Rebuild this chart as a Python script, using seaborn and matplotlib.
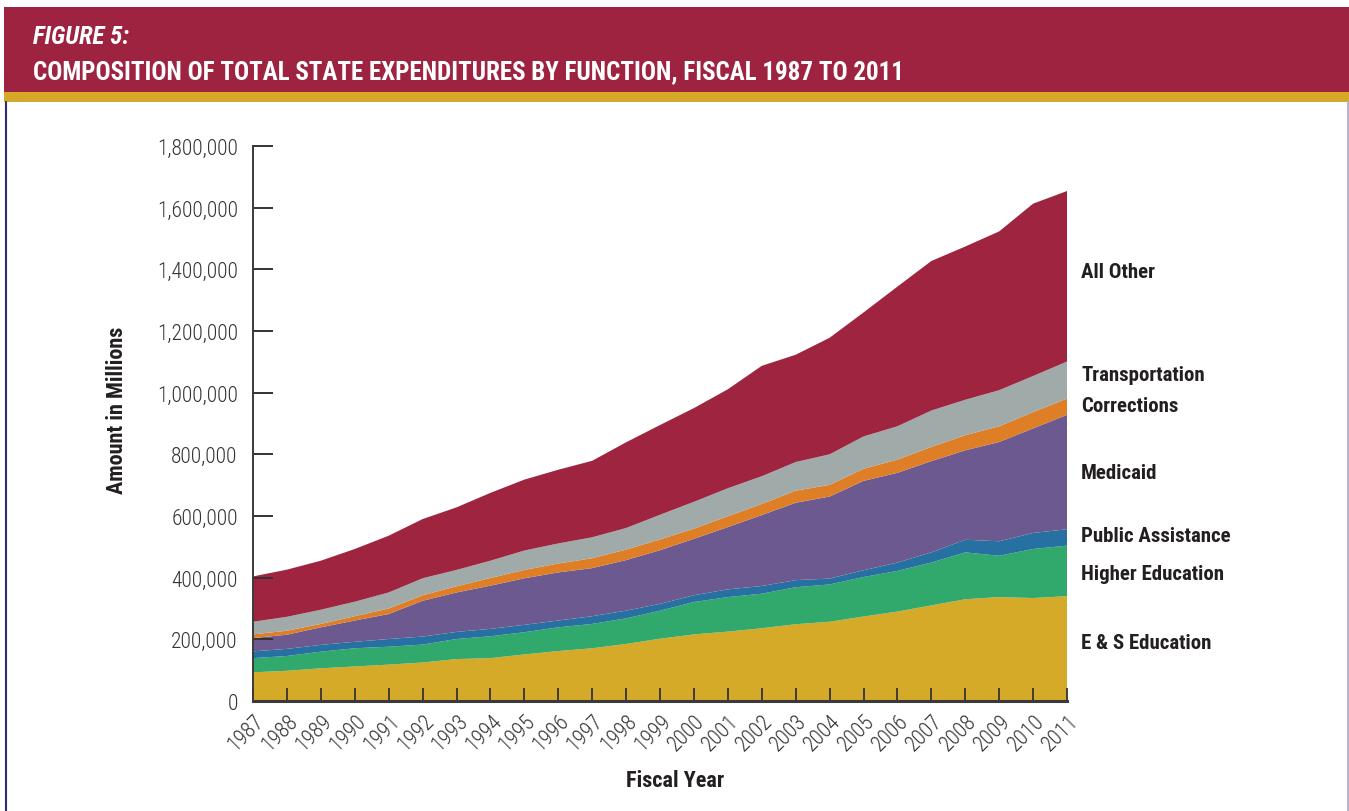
import matplotlib
matplotlib.use("Agg")
import matplotlib.pyplot as plt
import matplotlib.patches as mpatches
import matplotlib.transforms as mtransforms
from matplotlib.lines import Line2D
import matplotlib.ticker as mticker
import seaborn as sns
import pandas as pd

# ---------------- data (millions of dollars) ----------------
years = list(range(1987, 2012))
categories = ["E & S Education", "Higher Education", "Public Assistance",
              "Medicaid", "Corrections", "Transportation", "All Other"]

es_education = [93000, 98000, 106000, 112000, 118000, 125000, 136000, 139000, 151000,
                162000, 171000, 185000, 202000, 216000, 225000, 236000, 249000, 257000,
                274000, 290000, 310000, 330000, 337000, 334000, 340000]
higher_education = [46000, 48000, 54000, 59000, 58000, 58000, 65000, 71000, 72000,
                    77000, 79000, 83000, 91000, 105000, 112000, 112000, 120000, 121000,
                    128000, 132000, 139000, 152000, 134000, 159000, 164000]
public_assistance = [22000, 23000, 22000, 21000, 25000, 26000, 23000, 24000, 24000,
                     22000, 25000, 25000, 22000, 22000, 25000, 25000, 23000, 19000,
                     22000, 27000, 33000, 41000, 47000, 52000, 53000]
medicaid = [43000, 46000, 57000, 69000, 81000, 116000, 128000, 140000, 151000,
            156000, 156000, 164000, 174000, 183000, 202000, 230000, 251000, 266000,
            290000, 291000, 296000, 290000, 322000, 339000, 371000]
corrections = [12000, 13000, 11000, 14000, 18000, 18000, 20000, 25000, 27000,
               29000, 32000, 34000, 35000, 33000, 35000, 36000, 39000, 38000,
               39000, 43000, 46000, 49000, 51000, 53000, 53000]
transportation = [41000, 45000, 46000, 47000, 52000, 55000, 53000, 56000, 63000,
                   65000, 68000, 70000, 80000, 87000, 91000, 90000, 93000, 99000,
                   105000, 108000, 118000, 115000, 117000, 117000, 120000]
all_other = [147000, 153000, 159000, 171000, 184000, 192000, 203000, 220000, 230000,
             239000, 248000, 278000, 291000, 304000, 321000, 358000, 348000, 378000,
             402000, 453000, 485000, 497000, 515000, 559000, 553000]

y_ticks = [0, 200000, 400000, 600000, 800000, 1000000, 1200000, 1400000, 1600000, 1800000]

title_line1 = "FIGURE 5:"
title_line2 = "COMPOSITION OF TOTAL STATE EXPENDITURES BY FUNCTION, FISCAL 1987 TO 2011"
x_label = "Fiscal Year"
y_label = "Amount in Millions"

df = pd.DataFrame({
    "year": years,
    "E & S Education": es_education,
    "Higher Education": higher_education,
    "Public Assistance": public_assistance,
    "Medicaid": medicaid,
    "Corrections": corrections,
    "Transportation": transportation,
    "All Other": all_other,
})

# ---------------- style ----------------
sns.set_theme(style="white")
FONT = ["Roboto Condensed", "IBM Plex Sans Condensed", "Archivo Narrow", "DejaVu Sans"]
plt.rcParams["font.family"] = FONT

colors = ["#D4AA28", "#31A86C", "#2670A2", "#6C5990", "#DE7E27", "#9FAAA9", "#9E2440"]
palette = sns.color_palette(colors)

W, H = 1349, 812
fig = plt.figure(figsize=(W / 100, H / 100), dpi=100)
fig.patch.set_facecolor("white")

# header banner
fig.add_artist(mpatches.Rectangle((4 / W, 1 - 93 / H), 1 - 4 / W, 85 / H,
                                  transform=fig.transFigure, facecolor="#9E2340",
                                  edgecolor="none", zorder=0))
fig.add_artist(mpatches.Rectangle((4 / W, 1 - 103 / H), 1 - 4 / W, 10 / H,
                                  transform=fig.transFigure, facecolor="#D6A82A",
                                  edgecolor="none", zorder=0))
# frame lines
fig.add_artist(Line2D([6 / W, 6 / W], [0, 1 - 103 / H], transform=fig.transFigure,
                      color="#2B2D6E", lw=1.5))
fig.add_artist(Line2D([1347.5 / W, 1347.5 / W], [0, 1 - 103 / H], transform=fig.transFigure,
                      color="#B9B2CF", lw=1.5))

fig.text(33 / W, 1 - 37 / H, title_line1, color="white", fontsize=18,
         fontweight="bold", fontstyle="italic", va="center", ha="left", family=FONT)
fig.text(33 / W, 1 - 72 / H, title_line2, color="white", fontsize=18,
         fontweight="bold", va="center", ha="left", family=FONT)

# axes
left, right, bottom, top = 253, 1067, 702, 147
ax = fig.add_axes([left / W, 1 - bottom / H, (right - left) / W, (bottom - top) / H])
ax.set_facecolor("none")

ax.stackplot(df["year"], [df[c] for c in categories], colors=palette,
             linewidth=0, edgecolor="none", zorder=1)

ax.set_xlim(1987, 2011)
ax.set_ylim(0, 1800000)
ax.set_xticks(years)
ax.set_xticklabels([str(y) for y in years], rotation=45, ha="right",
                   rotation_mode="anchor", va="center")
ax.set_yticks(y_ticks)
ax.yaxis.set_major_formatter(mticker.FuncFormatter(lambda v, p: f"{int(v):,}"))

sns.despine(ax=ax, top=True, right=True)
ax.spines["left"].set_color("#3A3A3A")
ax.spines["left"].set_linewidth(1.4)
ax.spines["bottom"].set_color("#3A3A3A")
ax.spines["bottom"].set_linewidth(2.2)
ax.spines["left"].set_zorder(3)
ax.spines["bottom"].set_zorder(3)

ax.tick_params(axis="y", direction="in", length=14.5, width=1.4, color="#333333",
               pad=11, labelsize=15.5, labelcolor="#333333", left=True)
ax.tick_params(axis="x", direction="in", length=9.5, width=1.3, color="#333333",
               pad=12, labelsize=15.5, labelcolor="#333333", bottom=True)
for lab in ax.get_yticklabels() + ax.get_xticklabels():
    lab.set_fontweight("light")
shift = mtransforms.ScaledTranslation(8 / 100, 0, fig.dpi_scale_trans)
for lab in ax.get_xticklabels():
    lab.set_transform(lab.get_transform() + shift)
ax.set_axisbelow(False)
ax.grid(False)

ax.set_xlabel(x_label, fontsize=16, fontweight="bold", color="#231F20")
ax.set_ylabel(y_label, fontsize=16, fontweight="bold", color="#231F20")
ax.yaxis.set_label_coords((117 - left) / (right - left), (bottom - 410) / (bottom - top))
ax.xaxis.set_label_coords((675 - left) / (right - left), -(781 - bottom) / (bottom - top))
ax.xaxis.label.set_va("center")
ax.yaxis.label.set_va("center")

# series labels on the right
label_pos = {
    "All Other": 273, "Transportation": 376, "Corrections": 407, "Medicaid": 474,
    "Public Assistance": 536, "Higher Education": 574, "E & S Education": 644,
}
for name in categories:
    yp = label_pos[name]
    ax.text((1081 - left) / (right - left), (bottom - yp) / (bottom - top), name,
            transform=ax.transAxes, fontsize=15, fontweight="bold", color="#231F20",
            ha="left", va="center", clip_on=False)

fig.savefig("out.png", dpi=100, facecolor="white")
